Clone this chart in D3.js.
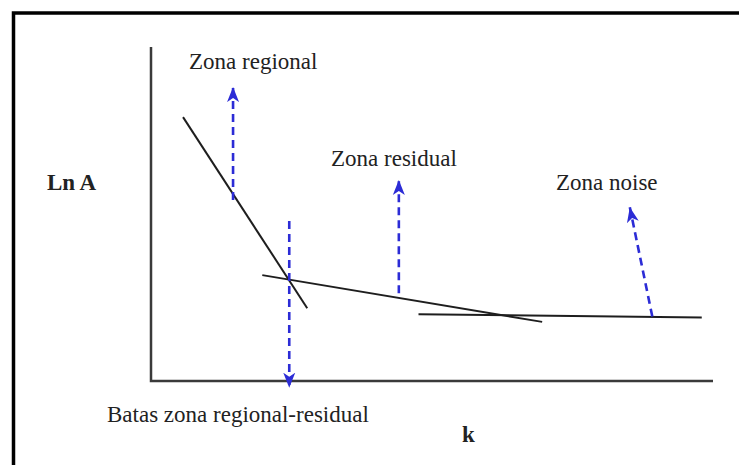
<!DOCTYPE html>
<html>
<head>
<meta charset="utf-8">
<script src="https://cdn.jsdelivr.net/npm/d3@7"></script>
<style>
  body { margin: 0; background: #fff; }
  svg { display: block; }
  .seg { stroke: #1e1e1e; stroke-width: 2; fill: none; }
  .axis-line { stroke: #3a3a3a; stroke-width: 2.5; fill: none; }
  .arrow { stroke: #2c2cd6; stroke-width: 2.6; stroke-dasharray: 8 5; fill: none; }
  .lbl { font-family: "Liberation Serif", "Times New Roman", serif; font-size: 23px; fill: #222; }
  .bold { font-weight: bold; }
</style>
</head>
<body>
<svg width="739" height="465"></svg>
<script>
// schematic segments of the ln A vs k spectrum (arbitrary units 0-100)
var regionalSeg = [[5.7, 79.0], [27.8, 21.8]];
var residualSeg = [[19.8, 31.7], [69.6, 17.7]];
var noiseSeg    = [[47.6, 20.0], [98.0, 19.0]];

// dashed arrows: [start, tip]
var arrowRegional = [[14.6, 54.2], [14.6, 88.0]];
var arrowBoundary = [[24.6, 47.9], [24.6, -2.0]];
var arrowResidual = [[44.1, 26.3], [44.1, 60.2]];
var arrowNoise    = [[89.2, 19.3], [85.2, 52.0]];

var labels = ["Zona regional", "Zona residual", "Zona noise", "Batas zona regional-residual"];
var axisLabels = ["Ln A", "k"];

var svg = d3.select('svg');

var x = d3.scaleLinear().domain([0, 100]).range([151, 713]);
var y = d3.scaleLinear().domain([0, 100]).range([381, 47]);

// frame (top and left edges only)
svg.append('path')
  .attr('d', 'M13.5,465 V13 H739')
  .attr('stroke', '#000')
  .attr('stroke-width', 3.5)
  .attr('fill', 'none');

svg.append('defs').append('marker')
    .attr('id', 'head')
    .attr('viewBox', '-15 -7 16 14')
    .attr('refX', 0)
    .attr('refY', 0)
    .attr('markerWidth', 16)
    .attr('markerHeight', 14)
    .attr('markerUnits', 'userSpaceOnUse')
    .attr('orient', 'auto')
  .append('path')
    .attr('d', 'M0,0 L-15,-6 L-11,0 L-15,6 Z')
    .attr('fill', '#2c2cd6');

// axes
var line = d3.line().x(d => x(d[0])).y(d => y(d[1]));
svg.append('path')
  .attr('class', 'axis-line')
  .attr('d', line([[0, 100], [0, 0], [100, 0]]));

svg.selectAll('path.seg')
  .data([regionalSeg, residualSeg, noiseSeg])
  .enter()
  .append('path')
    .attr('class', 'seg')
    .attr('d', line);

svg.selectAll('path.arrow')
  .data([arrowRegional, arrowBoundary, arrowResidual, arrowNoise])
  .enter()
  .append('path')
    .attr('class', 'arrow')
    .attr('d', line)
    .attr('marker-end', 'url(#head)');

var labelPos = [[189, 69], [331, 166], [556, 190], [107, 422]];
svg.selectAll('text.lbl')
  .data(labels)
  .enter()
  .append('text')
    .attr('class', 'lbl')
    .attr('x', (d, i) => labelPos[i][0])
    .attr('y', (d, i) => labelPos[i][1])
    .text(d => d);

svg.append('text')
  .attr('class', 'lbl bold')
  .attr('x', 47)
  .attr('y', 190)
  .text(axisLabels[0]);

svg.append('text')
  .attr('class', 'lbl bold')
  .attr('x', 462)
  .attr('y', 442)
  .text(axisLabels[1]);
</script>
</body>
</html>
